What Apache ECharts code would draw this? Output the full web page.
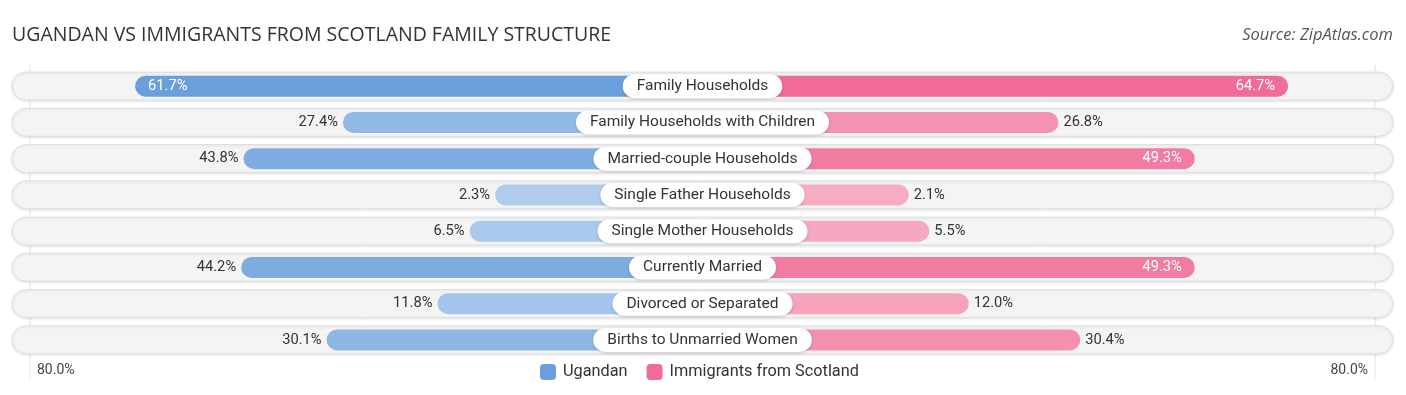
<!DOCTYPE html>
<html>
<head>
<meta charset="utf-8">
<script src="https://cdn.jsdelivr.net/npm/echarts@6/dist/echarts.min.js"></script>
<style>html,body{margin:0;padding:0;background:#fff}#c{width:1406px;height:395px}</style>
</head>
<body>
<div id="c"></div>
<script>
const categories = ['Family Households','Family Households with Children','Married-couple Households','Single Father Households','Single Mother Households','Currently Married','Divorced or Separated','Births to Unmarried Women'];
const ugandan = [61.7, 27.4, 43.8, 2.3, 6.5, 44.2, 11.8, 30.1];
const scotland = [64.7, 26.8, 49.3, 2.1, 5.5, 49.3, 12.0, 30.4];
const seriesNames = ['Ugandan', 'Immigrants from Scotland'];
const axisTickLabels = ['80.0%', '80.0%'];

// layout constants
const OFFSET = 31.93;   // bar start offset (under centre label), in axis units
const M = 113.94;       // half-extent of the value axis
const EDGE = 110.97;    // position of the faint edge lines
const FULL_BLUE = [106, 159, 220], LIGHT_BLUE = [178, 206, 238];
const FULL_PINK = [240, 107, 149], LIGHT_PINK = [247, 174, 196];
const maxU = Math.max(...ugandan), maxS = Math.max(...scotland);

function mix(a, b, t) {
  const c = a.map((x, i) => Math.round(x + (b[i] - x) * t));
  return 'rgb(' + c.join(',') + ')';
}
const fmt = v => v.toFixed(1) + '%';
const INSIDE_T = 46;

const chart = echarts.init(document.getElementById('c'), null, {renderer: 'canvas'});

const blueData = ugandan.map(v => ({
  value: -(v + OFFSET),
  itemStyle: {color: mix(LIGHT_BLUE, FULL_BLUE, v / maxU)},
  label: v > INSIDE_T
    ? {position: 'insideLeft', color: '#fff', distance: 13}
    : {position: 'left', color: '#333', distance: 5}
}));
const pinkData = scotland.map(v => ({
  value: v + OFFSET,
  itemStyle: {color: mix(LIGHT_PINK, FULL_PINK, v / maxS)},
  label: v > INSIDE_T
    ? {position: 'insideRight', color: '#fff', distance: 13}
    : {position: 'right', color: '#333', distance: 5}
}));

const FONT = 'Roboto, "Noto Sans", sans-serif';
const TFONT = '"Open Sans", Roboto, sans-serif';

chart.setOption({
  animation: false,
  textStyle: {fontFamily: FONT},
  title: [
    {text: 'UGANDAN VS IMMIGRANTS FROM SCOTLAND FAMILY STRUCTURE', left: 7, top: 20,
     textStyle: {fontSize: 19.5, fontWeight: 'normal', color: '#333', fontFamily: TFONT}},
    {text: 'Source: ZipAtlas.com', right: 8, top: 22,
     textStyle: {fontSize: 16.5, fontWeight: 'normal', fontStyle: 'italic', color: '#555', fontFamily: TFONT}}
  ],
  legend: {
    data: seriesNames, top: 359, left: 535, itemWidth: 16, itemHeight: 16, itemGap: 19,
    icon: 'roundRect', textStyle: {fontSize: 16.3, color: '#333', fontFamily: FONT, padding: [0, 0, 0, 2]}
  },
  grid: {left: 12, right: 13, top: 68, height: 290},
  xAxis: {type: 'value', min: -M, max: M, show: false},
  yAxis: [
    {type: 'category', data: categories, inverse: true, show: false},
    {type: 'category', data: categories, inverse: true, show: false}
  ],
  series: [
    {
      type: 'bar', name: 'bg', yAxisIndex: 1, barWidth: 28, silent: true,
      data: categories.map(() => 0),
      showBackground: true,
      backgroundStyle: {color: '#f4f4f4', borderColor: '#dedede', borderWidth: 1, borderRadius: 14,
        shadowColor: 'rgba(0,0,0,0.10)', shadowBlur: 3, shadowOffsetY: 1},
      itemStyle: {opacity: 0},
      z: 1
    },
    {
      type: 'bar', name: seriesNames[0], yAxisIndex: 0, barWidth: 21, barGap: '-100%', stack: 'l',
      itemStyle: {color: mix(LIGHT_BLUE, FULL_BLUE, 1), borderRadius: 10.5},
      label: {show: true, fontSize: 14.7, fontFamily: FONT, formatter: p => fmt(ugandan[p.dataIndex])},
      data: blueData, z: 3
    },
    {
      type: 'bar', name: seriesNames[1], yAxisIndex: 0, barWidth: 21, barGap: '-100%', stack: 'r',
      itemStyle: {color: mix(LIGHT_PINK, FULL_PINK, 1), borderRadius: 10.5},
      label: {show: true, fontSize: 14.7, fontFamily: FONT, formatter: p => fmt(scotland[p.dataIndex])},
      data: pinkData, z: 3
    },
    {
      type: 'scatter', name: 'labels', yAxisIndex: 0, symbolSize: 1, silent: true,
      itemStyle: {color: 'rgba(0,0,0,0)', opacity: 1},
      data: categories.map(c => [0, c]),
      label: {show: true, position: 'inside', formatter: p => categories[p.dataIndex],
        fontSize: 15.5, color: '#333', fontFamily: FONT, opacity: 1,
        backgroundColor: '#ffffff', borderRadius: 12, padding: [4, 14, 2, 14], lineHeight: 18,
        shadowColor: 'rgba(0,0,0,0.18)', shadowBlur: 3, shadowOffsetY: 1},
      z: 10
    }
  ]
});

// faint edge lines and the ±80% labels, placed through the chart's own scale
const xl = chart.convertToPixel({xAxisIndex: 0}, -EDGE);
const xr = chart.convertToPixel({xAxisIndex: 0}, EDGE);
chart.setOption({
  graphic: [
    {type: 'line', shape: {x1: xl, y1: 65, x2: xl, y2: 379}, style: {stroke: '#e2e2e2', lineWidth: 1}, z: 0, silent: true},
    {type: 'line', shape: {x1: xr, y1: 65, x2: xr, y2: 379}, style: {stroke: '#e2e2e2', lineWidth: 1}, z: 0, silent: true},
    {type: 'text', x: xl + 7, y: 370, style: {text: axisTickLabels[0], fill: '#444', font: '14px ' + FONT, textVerticalAlign: 'middle', textAlign: 'left'}},
    {type: 'text', x: xr - 7, y: 370, style: {text: axisTickLabels[1], fill: '#444', font: '14px ' + FONT, textVerticalAlign: 'middle', textAlign: 'right'}}
  ]
});
</script>
</body>
</html>
